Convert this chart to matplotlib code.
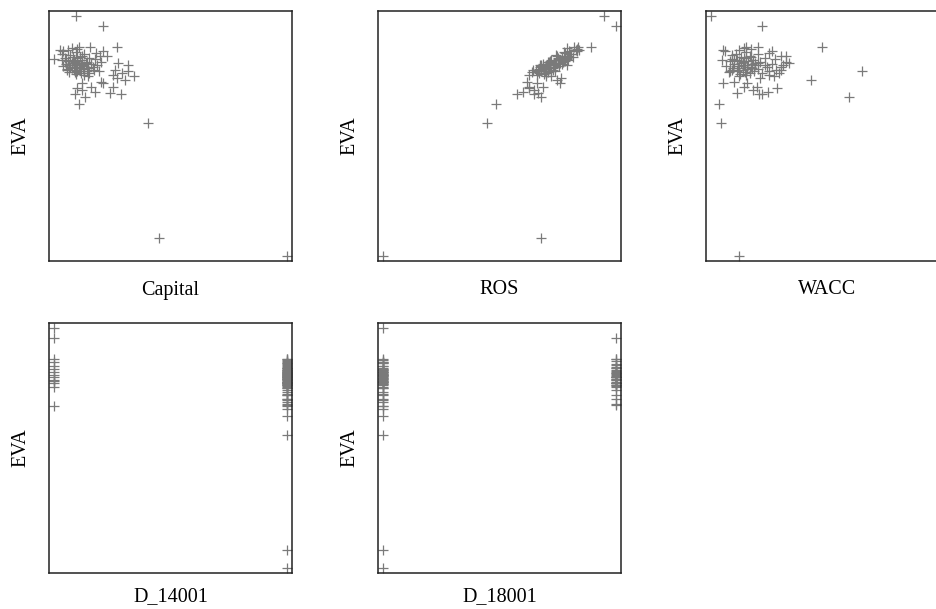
import numpy as np
import matplotlib.pyplot as plt

plt.rcParams['font.family'] = ['Liberation Serif', 'DejaVu Serif']

# EVA and the explanatory variables, one entry per firm (rescaled to 0..1)
eva = [
    1.000, 0.962, 0.872, 0.823, 0.555, 0.075, 0.000, 0.633, 0.773, 0.735,
    0.664, 0.861, 0.874, 0.874, 0.854, 0.833, 0.805, 0.795, 0.777, 0.756,
    0.763, 0.753, 0.742, 0.721, 0.749, 0.721, 0.700, 0.675, 0.683, 0.679,
    0.675, 0.707, 0.770, 0.728, 0.707, 0.693,
    0.860, 0.852, 0.845, 0.838, 0.832, 0.828, 0.825, 0.820, 0.818, 0.815,
    0.812, 0.808, 0.805, 0.802, 0.800, 0.797, 0.795, 0.792, 0.790, 0.787,
    0.785, 0.782, 0.780, 0.777, 0.775, 0.772, 0.770, 0.767, 0.765, 0.762,
    0.760, 0.755, 0.865, 0.870, 0.855, 0.848, 0.842, 0.835, 0.830, 0.822,
    0.817, 0.810, 0.806, 0.798, 0.793, 0.788, 0.783, 0.778, 0.773, 0.768,
    0.826, 0.814, 0.803, 0.796, 0.819, 0.807, 0.834, 0.789, 0.784, 0.811,
]
capital = [
    0.095, 0.208, 0.271, 0.000, 0.405, 0.451, 1.000, 0.105, 0.317, 0.305,
    0.133, 0.026, 0.105, 0.155, 0.208, 0.226, 0.276, 0.319, 0.262, 0.255,
    0.291, 0.345, 0.269, 0.212, 0.145, 0.119, 0.097, 0.090, 0.176, 0.241,
    0.288, 0.255, 0.191, 0.200, 0.160, 0.120,
    0.060, 0.095, 0.130, 0.070, 0.110, 0.045, 0.150, 0.085, 0.120, 0.060,
    0.100, 0.140, 0.075, 0.160, 0.050, 0.115, 0.090, 0.130, 0.070, 0.105,
    0.145, 0.055, 0.125, 0.085, 0.170, 0.100, 0.140, 0.065, 0.115, 0.150,
    0.095, 0.130, 0.100, 0.075, 0.040, 0.180, 0.035, 0.195, 0.080, 0.175,
    0.035, 0.200, 0.100, 0.185, 0.040, 0.165, 0.110, 0.055, 0.130, 0.090,
    0.100, 0.080, 0.120, 0.065, 0.050, 0.135, 0.120, 0.095, 0.075, 0.090,
]
ros = [
    0.947, 1.000, 0.894, 0.750, 0.445, 0.677, 0.000, 0.483, 0.720, 0.746,
    0.677, 0.830, 0.839, 0.818, 0.800, 0.790, 0.760, 0.789, 0.680, 0.660,
    0.700, 0.720, 0.765, 0.663, 0.700, 0.760, 0.627, 0.574, 0.600, 0.667,
    0.650, 0.689, 0.740, 0.617, 0.627, 0.650,
    0.840, 0.778, 0.802, 0.741, 0.817, 0.750, 0.781, 0.723, 0.750, 0.780,
    0.771, 0.709, 0.740, 0.685, 0.767, 0.702, 0.734, 0.680, 0.707, 0.737,
    0.729, 0.669, 0.701, 0.646, 0.728, 0.664, 0.696, 0.641, 0.668, 0.698,
    0.690, 0.627, 0.833, 0.791, 0.835, 0.781, 0.807, 0.746, 0.769, 0.791,
    0.778, 0.713, 0.741, 0.679, 0.756, 0.688, 0.716, 0.658, 0.680, 0.707,
    0.792, 0.719, 0.737, 0.676, 0.796, 0.717, 0.795, 0.675, 0.697, 0.774,
]
wacc = [
    0.000, 0.217, 0.475, 0.090, 0.041, 1.000, 0.120, 0.034, 0.647, 0.429,
    0.594, 0.050, 0.150, 0.200, 0.260, 0.320, 0.336, 0.310, 0.300, 0.250,
    0.290, 0.270, 0.210, 0.050, 0.120, 0.153, 0.285, 0.207, 0.246, 0.113,
    0.220, 0.199, 0.080, 0.100, 0.140, 0.180,
    0.120, 0.150, 0.200, 0.090, 0.170, 0.140, 0.230, 0.110, 0.180, 0.080,
    0.160, 0.210, 0.130, 0.260, 0.100, 0.145, 0.190, 0.120, 0.170, 0.240,
    0.095, 0.155, 0.200, 0.135, 0.280, 0.110, 0.185, 0.075, 0.165, 0.220,
    0.125, 0.150, 0.170, 0.140, 0.060, 0.250, 0.105, 0.300, 0.130, 0.275,
    0.045, 0.320, 0.200, 0.230, 0.065, 0.300, 0.175, 0.090, 0.250, 0.145,
    0.150, 0.120, 0.175, 0.140, 0.100, 0.190, 0.165, 0.155, 0.115, 0.135,
]
d_14001 = [
    0, 0, 0, 1, 1, 1, 1, 1, 1, 1, 1, 0, 1, 1, 1, 1, 1, 1, 1, 0,
    1, 1, 1, 1, 1, 1, 1, 0, 1, 1, 1, 1, 1, 1, 1, 1,
    1, 1, 1, 1, 0, 1, 1, 1, 0, 1, 1, 1, 0, 1, 1, 1, 0, 1, 1, 1,
    1, 0, 1, 1, 1, 1, 0, 1, 1, 1, 1, 1, 1, 1, 1, 1, 0, 1, 1, 1,
    1, 1, 1, 1, 1, 1, 0, 1, 1, 1, 1, 1, 1, 1, 1, 1, 1, 1, 1, 1,
]
d_18001 = [
    0, 1, 1, 0, 0, 0, 0, 0, 1, 0, 0, 0, 0, 1, 0, 1, 0, 1, 0, 1,
    1, 0, 1, 0, 0, 1, 0, 0, 1, 1, 0, 0, 1, 0, 1, 0,
    0, 1, 0, 1, 0, 0, 1, 0, 1, 0, 1, 0, 0, 1, 0, 1, 0, 0, 1, 0,
    1, 0, 0, 1, 0, 1, 0, 0, 1, 0, 1, 0, 1, 0, 0, 1, 0, 1, 0, 1,
    0, 1, 0, 1, 0, 1, 0, 0, 1, 0, 0, 1, 0, 1, 0, 1, 0, 0, 1, 0,
]

names = ["Capital", "ROS", "WACC", "D_14001", "D_18001"]
columns = [capital, ros, wacc, d_14001, d_18001]

fig = plt.figure(figsize=(9.36, 6.09), dpi=100)

# panel boxes in pixels: left edge, top edge (third one runs off the right side)
W, H = 936, 609
pw, ph = 243, 250
lefts = [49, 378, 706, 49, 378]
tops = [11, 11, 11, 323, 323]
label_gap = [29, 29, 29, 24, 24]


def padded(v, frac=0.022):
    lo, hi = np.min(v), np.max(v)
    d = (hi - lo) * frac
    return lo - d, hi + d


for name, col, lx, ty, gap in zip(names, columns, lefts, tops, label_gap):
    ax = fig.add_axes([lx / W, 1 - (ty + ph) / H, pw / W, ph / H])
    ax.plot(col, eva, linestyle='none', marker='+', ms=6.8, mew=0.9,
            color='#7a7a7a', clip_on=True)
    ax.set_xlim(*padded(col))
    ax.set_ylim(*padded(eva, 0.023))
    ax.set_xticks([])
    ax.set_yticks([])
    for s in ax.spines.values():
        s.set_color('#222222')
        s.set_linewidth(1.1)
    ax.text(0.5, -gap / ph, name, transform=ax.transAxes, ha='center',
            va='center', fontsize=14.5)
    ax.text(-28 / pw, 0.5, "EVA", transform=ax.transAxes, ha='center',
            va='center', rotation=90, fontsize=14.5)

fig.savefig("out.png", dpi=100)
